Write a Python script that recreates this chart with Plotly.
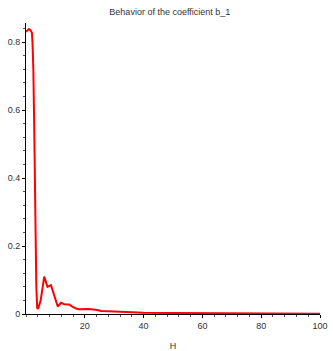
import plotly.graph_objects as go

# Values
h = [0, 0.5, 1.0, 1.5, 2.0, 2.2, 2.5, 2.8, 3.0, 3.1, 3.4, 3.5, 3.8, 4.1,
     5.0, 6.2, 7.3, 8.5, 10.8, 11.9, 13.0, 14.7, 15.5, 17.0, 18.0, 19.8,
     21.4, 24.3, 25.5, 28, 32, 36, 40, 50, 65, 80, 100]
b1 = [0.830, 0.835, 0.838, 0.835, 0.828, 0.80, 0.72, 0.55, 0.40, 0.30, 0.14,
      0.085, 0.018, 0.015, 0.04, 0.11, 0.08, 0.085, 0.022, 0.033, 0.029,
      0.028, 0.023, 0.016, 0.014, 0.014, 0.015, 0.012, 0.009, 0.008, 0.0065,
      0.005, 0.004, 0.003, 0.002, 0.0015, 0.001]

x_ticks = [20, 40, 60, 80, 100]
y_ticks = [0, 0.2, 0.4, 0.6, 0.8]
y_labels = ["0", "0.2", "0.4", "0.6", "0.8"]

fig = go.Figure()

fig.add_trace(go.Scatter(
    x=h, y=b1, mode="lines",
    line=dict(color="#ff0000", width=2),
    showlegend=False
))

fig.update_layout(
    width=333, height=351,
    margin=dict(l=26, r=13, t=23, b=37),
    paper_bgcolor="white",
    plot_bgcolor="white",
    font=dict(family="Liberation Sans, Arial, sans-serif", size=9, color="#333333"),
    title=dict(text="Behavior of the coefficient b_1", x=0.51, xanchor="center",
               y=0.965, yanchor="middle", font=dict(size=9, color="#333333")),
)

fig.update_xaxes(
    range=[0, 100], showgrid=False, zeroline=False, automargin=False,
    showline=True, linecolor="black", linewidth=1,
    tickvals=x_ticks, ticks="outside", ticklen=3, tickcolor="black",
    minor=dict(dtick=4, ticks="outside", ticklen=2, tickcolor="#555555"),
    title=dict(text="H", standoff=13, font=dict(size=9, color="#333333")),
)
fig.update_yaxes(
    range=[0, 0.856], showgrid=False, zeroline=False, automargin=False,
    showline=True, linecolor="black", linewidth=1,
    tickvals=y_ticks, ticktext=y_labels, ticks="outside", ticklen=3,
    tickcolor="black",
    minor=dict(dtick=0.04, ticks="outside", ticklen=2, tickcolor="#555555"),
)

# drop the default page margin so the figure fills the window exactly
fig.write_html("out.html", config={"displayModeBar": False},
               post_script="document.body.style.margin='0';"
                           "document.body.style.overflow='hidden';")
